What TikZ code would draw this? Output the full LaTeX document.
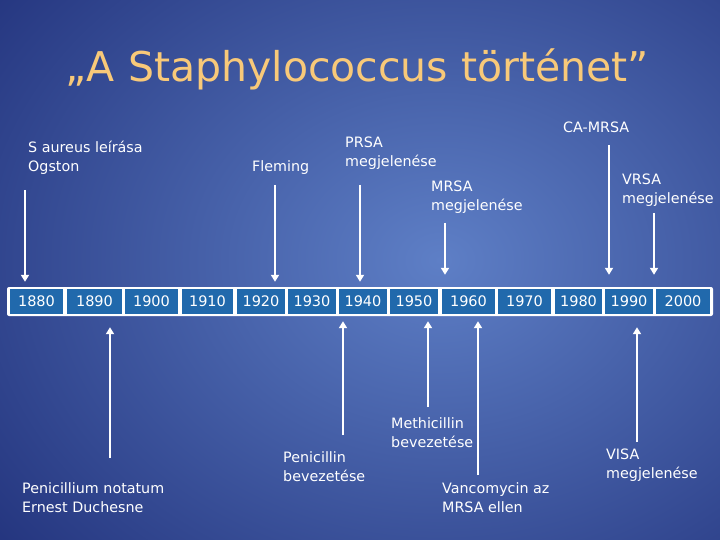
\documentclass[tikz,border=0pt]{standalone}
\usepackage{fontspec}
\setmainfont{DejaVu Sans}
\usetikzlibrary{arrows.meta}
\definecolor{bgout}{HTML}{1A2872}
\definecolor{bgin}{HTML}{5E7FC6}
\definecolor{cellblue}{HTML}{2169AC}
\definecolor{titlecol}{HTML}{F8C979}
\tikzset{
  lbl/.style={text=white, font=\fontsize{14.3}{19}\selectfont, align=left, anchor=base west, inner sep=0pt},
  cell/.style={fill=cellblue, text=white, font=\fontsize{14.5}{16}\selectfont, minimum height=25pt, inner sep=0pt},
  arr/.style={draw=white, line width=2.6pt, -{Triangle[width=8pt,length=7pt]}},
}
\begin{document}
\begin{tikzpicture}[x=1pt,y=-1pt]
\useasboundingbox (0,0) rectangle (720,540);
\shade[inner color=bgin, outer color=bgout] (-230,-270) rectangle (1110,790);
% title
\node[text=titlecol, font=\fontsize{41}{46}\selectfont, anchor=base, inner sep=0pt] (title) at (357,82) {„A Staphylococcus történet”};
% timeline frame
\node[fill=white, rounded corners=2pt, minimum width=706pt, minimum height=29pt, inner sep=0pt] (box) at (360,301.5) {};
\foreach \yr/\a/\b in {1880/10/63,1890/67/122,1900/125/178,1910/182/233,1920/237/285,1930/288/336,1940/339/387,1950/390/438,1960/442/495,1970/498/551,1980/555/602,1990/605/653,2000/656/710}{
  \node[cell, minimum width={(\b-\a)*1pt}] (y\yr) at ({(\a+\b)/2},301.5) {\yr};
}
% top labels (anchor = baseline of last line)
\node[lbl] (saureus) at (28,172) {S aureus leírása\\Ogston};
\node[lbl] (fleming) at (252,172) {Fleming};
\node[lbl] (prsa) at (345,167) {PRSA\\megjelenése};
\node[lbl] (mrsa) at (431,211) {MRSA\\megjelenése};
\node[lbl] (camrsa) at (563,133) {CA-MRSA};
\node[lbl] (vrsa) at (622,204) {VRSA\\megjelenése};
% bottom labels
\node[lbl] (penicillium) at (22,512) {Penicillium notatum\\Ernest Duchesne};
\node[lbl] (penicillin) at (283,481) {Penicillin\\bevezetése};
\node[lbl] (methicillin) at (391,447) {Methicillin\\bevezetése};
\node[lbl] (vanco) at (442,512) {Vancomycin az\\MRSA ellen};
\node[lbl] (visa) at (606,478) {VISA\\megjelenése};
% arrow start points
\coordinate (s1) at (25,190);
\coordinate (s2) at (275,185);
\coordinate (s3) at (360,185);
\coordinate (s4) at (445,223);
\coordinate (s5) at (609,145);
\coordinate (s6) at (654,213);
\coordinate (b1) at (110,458);
\coordinate (b2) at (343,435);
\coordinate (b3) at (428,407);
\coordinate (b4) at (478,475);
\coordinate (b5) at (637,442);
% down arrows
\draw[arr, shorten >=5pt] (s1) -- (s1 |- box.north);
\draw[arr, shorten >=5pt] (s2) -- (s2 |- box.north);
\draw[arr, shorten >=5pt] (s3) -- (s3 |- box.north);
\draw[arr, shorten >=12pt] (s4) -- (s4 |- box.north);
\draw[arr, shorten >=12pt] (s5) -- (s5 |- box.north);
\draw[arr, shorten >=12pt] (s6) -- (s6 |- box.north);
% up arrows
\draw[arr, shorten >=11pt] (b1) -- (b1 |- box.south);
\draw[arr, shorten >=5pt] (b2) -- (b2 |- box.south);
\draw[arr, shorten >=5pt] (b3) -- (b3 |- box.south);
\draw[arr, shorten >=5pt] (b4) -- (b4 |- box.south);
\draw[arr, shorten >=11pt] (b5) -- (b5 |- box.south);
\end{tikzpicture}
\end{document}
